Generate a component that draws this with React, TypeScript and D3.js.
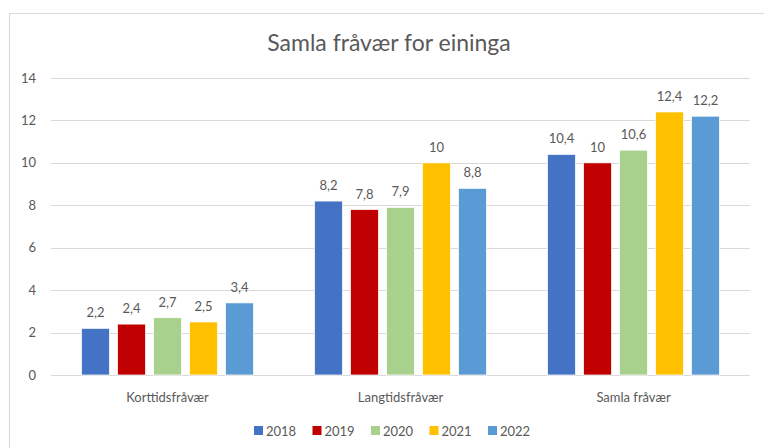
import React, { useEffect, useRef } from 'react';
import * as d3 from 'd3';

const categories = ['Korttidsfråvær', 'Langtidsfråvær', 'Samla fråvær'];
const years = ['2018', '2019', '2020', '2021', '2022'];
const colors = ['#4472C4', '#C00000', '#A9D18E', '#FFC000', '#5B9BD5'];
// values per year, in category order
const v2018 = [2.2, 8.2, 10.4];
const v2019 = [2.4, 7.8, 10];
const v2020 = [2.7, 7.9, 10.6];
const v2021 = [2.5, 10, 12.4];
const v2022 = [3.4, 8.8, 12.2];
const yTicks = [0, 2, 4, 6, 8, 10, 12, 14];

const series = [v2018, v2019, v2020, v2021, v2022];
const fmt = (v: number) => String(v).replace('.', ',');

const App = () => {
  const svgRef = useRef<SVGSVGElement>(null);

  useEffect(() => {
    const svg = d3.select(svgRef.current);
    svg.selectAll('*').remove();

    const width = 764;
    const height = 448;
    const font = 'Lato, "Open Sans", sans-serif';
    const textColor = '#595959';
    const plot = { left: 51, right: 750, top: 78, bottom: 375 };

    svg.attr('width', width).attr('height', height).style('font-family', font);

    // chart frame
    svg.append('rect')
      .attr('x', 9.5).attr('y', 13.5)
      .attr('width', 800).attr('height', 500)
      .attr('fill', '#fff').attr('stroke', '#D9D9D9');

    svg.append('text')
      .attr('x', 389).attr('y', 51)
      .attr('text-anchor', 'middle')
      .attr('font-size', '23px')
      .attr('fill', textColor)
      .text('Samla fråvær for eininga');

    const x = d3.scaleBand().domain(categories).range([plot.left, plot.right]);
    const y = d3.scaleLinear().domain([0, 14]).range([plot.bottom, plot.top]);
    const step = 36;
    const barW = 28;

    // grid
    svg.append('g').selectAll('line').data(yTicks).enter().append('line')
      .attr('x1', plot.left).attr('x2', plot.right)
      .attr('y1', d => Math.round(y(d)) + 0.5).attr('y2', d => Math.round(y(d)) + 0.5)
      .attr('stroke', '#D9D9D9');

    svg.append('g').selectAll('text').data(yTicks).enter().append('text')
      .attr('x', 36).attr('y', d => y(d) + 4.5)
      .attr('text-anchor', 'end')
      .attr('font-size', '13px')
      .attr('fill', textColor)
      .text(d => d);

    series.forEach((vals, si) => {
      const g = svg.append('g');
      vals.forEach((v, ci) => {
        const cx = x(categories[ci])! + x.bandwidth() / 2;
        const bx = cx - (2 * step + barW / 2) + si * step;
        g.append('rect')
          .attr('x', bx).attr('y', y(v))
          .attr('width', barW).attr('height', y(0) - y(v))
          .attr('fill', colors[si])
          .attr('stroke', '#fff').attr('stroke-width', 0.75);
        g.append('text')
          .attr('x', bx + barW / 2).attr('y', y(v) - 11)
          .attr('text-anchor', 'middle')
          .attr('font-size', '13px')
          .attr('fill', textColor)
          .text(fmt(v));
      });
    });

    svg.append('g').selectAll('text').data(categories).enter().append('text')
      .attr('x', d => x(d)! + x.bandwidth() / 2).attr('y', 402)
      .attr('text-anchor', 'middle')
      .attr('font-size', '13px')
      .attr('fill', textColor)
      .text(d => d);

    // legend
    const legend = svg.append('g');
    years.forEach((yr, i) => {
      const lx = 254 + i * 58.5;
      legend.append('rect')
        .attr('x', lx).attr('y', 426)
        .attr('width', 9).attr('height', 9)
        .attr('fill', colors[i]);
      legend.append('text')
        .attr('x', lx + 12).attr('y', 436)
        .attr('font-size', '13px')
        .attr('fill', textColor)
        .text(yr);
    });
  }, []);

  return (
    <div style={{ position: 'absolute', left: 0, top: 0 }}>
      <svg ref={svgRef}></svg>
    </div>
  );
};

export default App;
